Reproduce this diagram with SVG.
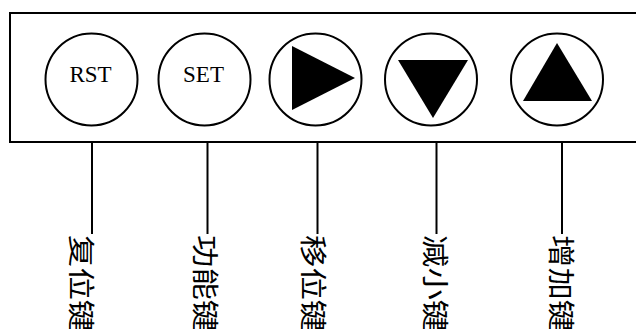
<svg xmlns="http://www.w3.org/2000/svg" width="636" height="329" viewBox="0 0 636 329">
<style>
.ln{stroke:#000;stroke-width:2;fill:none}
.btn{stroke:#000;stroke-width:2;fill:#fff}
.tri{fill:#000;stroke:none}
.cap{font-family:"Liberation Serif","Times New Roman",serif;font-size:23px;text-anchor:middle;fill:#000}
.lab{font-family:"Noto Sans CJK SC","Noto Sans CJK TC",sans-serif;font-size:27px;fill:#000}
</style>
<rect width="636" height="329" fill="#fff"/>
<g id="panel">
<rect x="10" y="13" width="640" height="129" class="ln" stroke-width="2.5"/>
</g>
<g id="connectors">
<line x1="92" y1="142" x2="92" y2="234" class="ln"/>
<line x1="207.5" y1="142" x2="207.5" y2="234" class="ln"/>
<line x1="317.5" y1="142" x2="317.5" y2="234" class="ln"/>
<line x1="436.5" y1="142" x2="436.5" y2="234" class="ln"/>
<line x1="562" y1="142" x2="562" y2="234" class="ln"/>
</g>
<g id="btn-rst">
<circle cx="91.5" cy="79.5" r="46" class="btn"/>
<text x="90.5" y="82" class="cap">RST</text>
</g>
<g id="btn-set">
<circle cx="204.5" cy="79.5" r="46" class="btn"/>
<text x="203.5" y="82" class="cap">SET</text>
</g>
<g id="btn-right">
<circle cx="315.5" cy="79.5" r="46" class="btn"/>
<polygon points="292,46 292,110 355,78" class="tri"/>
</g>
<g id="btn-down">
<circle cx="431" cy="79.5" r="46" class="btn"/>
<polygon points="398,60 468,60 433,118" class="tri"/>
</g>
<g id="btn-up">
<circle cx="557" cy="79.5" r="46" class="btn"/>
<polygon points="557,43 523,101 592,101" class="tri"/>
</g>
<g id="label-reset"><text class="lab" transform="translate(70.6,235) rotate(90) scale(1.2,1)">复位键</text></g>
<g id="label-function"><text class="lab" transform="translate(194.6,235) rotate(90) scale(1.2,1)">功能键</text></g>
<g id="label-shift"><text class="lab" transform="translate(302.6,235) rotate(90) scale(1.2,1)">移位键</text></g>
<g id="label-decrease"><text class="lab" transform="translate(424.6,235) rotate(90) scale(1.2,1)">减小键</text></g>
<g id="label-increase"><text class="lab" transform="translate(550.6,235) rotate(90) scale(1.2,1)">增加键</text></g>
</svg>
